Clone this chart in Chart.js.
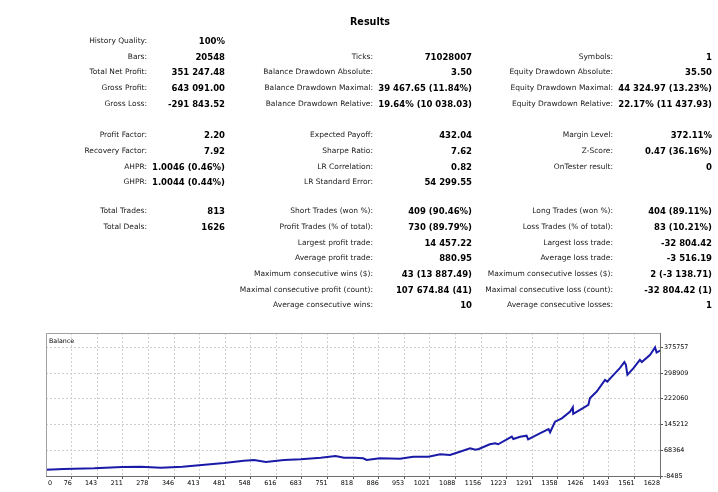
<!DOCTYPE html>
<html lang="en">

<head>
  <meta charset="UTF-8">
  <title>Results</title>
  <style>
    body {
      margin: 0;
      background: #fff;
      font-family: "DejaVu Sans", sans-serif;
      color: #000;
    }

    #pagina {
      position: relative;
      width: 718px;
      height: 492px;
      overflow: hidden;
    }

    #chartBalance {
      position: absolute;
      left: 0;
      top: 0;
    }

    .titulo {
      position: absolute;
      left: 320px;
      width: 100px;
      top: 16px;
      text-align: center;
      font-weight: bold;
      font-size: 9.6px;
      line-height: 12px;
    }

    .lbl,
    .val {
      position: absolute;
      white-space: nowrap;
      line-height: 12px;
      height: 12px;
      text-align: right;
    }

    .lbl {
      font-size: 7.5px;
      color: #1a1a1a;
    }

    .val {
      font-size: 8.5px;
      font-weight: bold;
    }

    .serie {
      position: absolute;
      left: 49px;
      top: 336px;
      font-size: 6.3px;
      line-height: 9px;
    }
  </style>
</head>

<body>
  <div id="pagina">
    <canvas id="chartBalance" width="718" height="492"></canvas>
    <div class="titulo">Results</div>
    <div class="serie">Balance</div>
    <div id="tabela"></div>
  </div>

  <script src="https://cdn.jsdelivr.net/npm/chart.js"></script>
  <script>
    // report table, one list per column group (null = empty row)
    const coluna1 = [
      ['History Quality:', '100%'],
      ['Bars:', '20548'],
      ['Total Net Profit:', '351 247.48'],
      ['Gross Profit:', '643 091.00'],
      ['Gross Loss:', '-291 843.52'],
      null,
      ['Profit Factor:', '2.20'],
      ['Recovery Factor:', '7.92'],
      ['AHPR:', '1.0046 (0.46%)'],
      ['GHPR:', '1.0044 (0.44%)'],
      null,
      ['Total Trades:', '813'],
      ['Total Deals:', '1626']
    ];
    const coluna2 = [
      null,
      ['Ticks:', '71028007'],
      ['Balance Drawdown Absolute:', '3.50'],
      ['Balance Drawdown Maximal:', '39 467.65 (11.84%)'],
      ['Balance Drawdown Relative:', '19.64% (10 038.03)'],
      null,
      ['Expected Payoff:', '432.04'],
      ['Sharpe Ratio:', '7.62'],
      ['LR Correlation:', '0.82'],
      ['LR Standard Error:', '54 299.55'],
      null,
      ['Short Trades (won %):', '409 (90.46%)'],
      ['Profit Trades (% of total):', '730 (89.79%)'],
      ['Largest profit trade:', '14 457.22'],
      ['Average profit trade:', '880.95'],
      ['Maximum consecutive wins ($):', '43 (13 887.49)'],
      ['Maximal consecutive profit (count):', '107 674.84 (41)'],
      ['Average consecutive wins:', '10']
    ];
    const coluna3 = [
      null,
      ['Symbols:', '1'],
      ['Equity Drawdown Absolute:', '35.50'],
      ['Equity Drawdown Maximal:', '44 324.97 (13.23%)'],
      ['Equity Drawdown Relative:', '22.17% (11 437.93)'],
      null,
      ['Margin Level:', '372.11%'],
      ['Z-Score:', '0.47 (36.16%)'],
      ['OnTester result:', '0'],
      null,
      null,
      ['Long Trades (won %):', '404 (89.11%)'],
      ['Loss Trades (% of total):', '83 (10.21%)'],
      ['Largest loss trade:', '-32 804.42'],
      ['Average loss trade:', '-3 516.19'],
      ['Maximum consecutive losses ($):', '2 (-3 138.71)'],
      ['Maximal consecutive loss (count):', '-32 804.42 (1)'],
      ['Average consecutive losses:', '1']
    ];

    // balance curve
    const xTicks = [0, 76, 143, 211, 278, 346, 413, 481, 548, 616, 683, 751, 818, 886, 953, 1021,
      1088, 1156, 1223, 1291, 1358, 1426, 1493, 1561, 1628];
    const yTicks = [-8485, 68364, 145212, 222060, 298909, 375757];
    const trades = [8, 55, 135, 209, 258, 311, 368, 412, 478, 530, 557, 588, 636, 680, 733, 772, 794, 821,
      845, 854, 889, 942, 977, 1017, 1048, 1074, 1100, 1127, 1141, 1150, 1179, 1193, 1201, 1237, 1241,
      1259, 1276, 1280, 1311, 1334, 1338, 1351, 1369, 1391, 1398, 1399, 1417, 1439, 1443, 1461, 1483,
      1489, 1501, 1522, 1534, 1538, 1542, 1558, 1575, 1580, 1602, 1615, 1619, 1628];
    const balance = [10000, 12400, 14500, 18400, 19300, 16300, 19300, 23500, 30400, 37300, 39400, 33400,
      39400, 41400, 46200, 51300, 46200, 46200, 44400, 39400, 44400, 43200, 49200, 49200, 56300, 54200,
      64000, 74000, 70000, 72000, 86200, 89200, 86200, 108900, 102000, 108900, 111800, 101100, 119000,
      131800, 122000, 153600, 163800, 183800, 196900, 176900, 188900, 203800, 223800, 243600, 278600,
      273500, 288400, 313600, 331500, 323400, 293500, 313600, 338400, 331500, 353300, 375757, 360200,
      366000];

    function montarTabela() {
      const tabela = document.getElementById('tabela');
      const colunas = [coluna1, coluna2, coluna3];
      const fimLabel = [147, 373, 613];
      const fimValor = [225, 472, 712];

      colunas.forEach((coluna, c) => {
        coluna.forEach((linha, r) => {
          if (!linha) return;
          let y = 41 + r * 15.7;
          if (r >= 11) y -= 2.5;

          const lbl = document.createElement('div');
          lbl.className = 'lbl';
          lbl.textContent = linha[0];
          lbl.style.right = (718 - fimLabel[c]) + 'px';
          lbl.style.top = (y - 6) + 'px';
          tabela.appendChild(lbl);

          const val = document.createElement('div');
          val.className = 'val';
          val.textContent = linha[1];
          val.style.right = (718 - fimValor[c]) + 'px';
          val.style.top = (y - 6) + 'px';
          tabela.appendChild(val);
        });
      });
    }

    // top and left edges of the plot box
    const moldura = {
      id: 'moldura',
      afterDatasetsDraw(chart) {
        const a = chart.chartArea;
        const ctx = chart.ctx;
        ctx.save();
        ctx.strokeStyle = '#a0a0a0';
        ctx.lineWidth = 1;
        ctx.beginPath();
        ctx.moveTo(Math.round(a.left) + 0.5, Math.round(a.bottom));
        ctx.lineTo(Math.round(a.left) + 0.5, Math.round(a.top) + 0.5);
        ctx.lineTo(Math.round(a.right), Math.round(a.top) + 0.5);
        ctx.stroke();
        ctx.restore();
      }
    };

    function gerarGrafico() {
      Chart.defaults.font.family = 'DejaVu Sans';
      const ctx = document.getElementById('chartBalance').getContext('2d');
      const fonteEixo = { family: 'DejaVu Sans', size: 6.4 };

      new Chart(ctx, {
        type: 'line',
        data: {
          datasets: [{
            label: 'Balance',
            data: trades.map((t, i) => ({ x: t, y: balance[i] })),
            borderColor: '#1a1aa8',
            borderWidth: 2,
            pointRadius: 0,
            tension: 0,
            fill: false
          }]
        },
        options: {
          responsive: false,
          animation: false,
          layout: { padding: { left: 46, top: 333, right: 0, bottom: 0 } },
          plugins: {
            legend: { display: false },
            tooltip: { enabled: false }
          },
          scales: {
            x: {
              type: 'linear',
              min: 8,
              max: 1628,
              afterBuildTicks: function (scale) {
                scale.ticks = xTicks.map(v => ({ value: Math.max(v, 24) }));
              },
              afterFit: function (scale) { scale.height = 16; },
              ticks: {
                autoSkip: false,
                maxRotation: 0,
                align: 'end',
                padding: 1,
                font: fonteEixo,
                color: '#000',
                callback: function (value, index) { return String(xTicks[index]); }
              },
              grid: {
                color: c => c.index === 0 ? 'rgba(0,0,0,0)' : '#cfcfcf',
                tickLength: 3,
                tickColor: c => c.index === 0 ? 'rgba(0,0,0,0)' : '#555',
                tickBorderDash: []
              },
              border: { color: '#6e6e6e', dash: [2, 2] }
            },
            y: {
              position: 'right',
              min: -8485,
              max: 418455,
              afterBuildTicks: function (scale) {
                scale.ticks = yTicks.map(v => ({ value: v }));
              },
              afterFit: function (scale) { scale.width = 58; },
              ticks: {
                autoSkip: false,
                padding: 1,
                font: fonteEixo,
                color: '#000',
                callback: function (value) { return String(value); }
              },
              grid: {
                color: '#cfcfcf',
                tickLength: 3,
                tickColor: '#555',
                tickBorderDash: []
              },
              border: { color: '#6e6e6e', dash: [2, 2] }
            }
          }
        },
        plugins: [moldura]
      });
    }

    montarTabela();
    gerarGrafico();
  </script>
</body>

</html>
